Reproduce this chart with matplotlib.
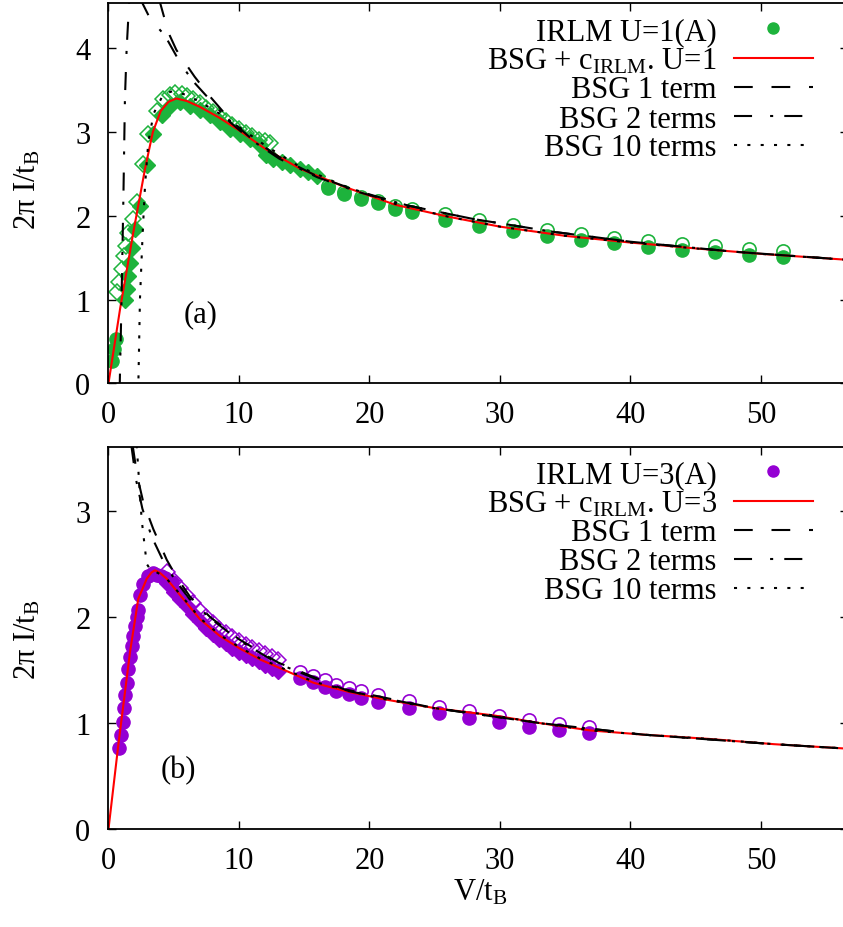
import matplotlib.pyplot as plt
from matplotlib.lines import Line2D

# --------------------------------
# DATA
# --------------------------------
# (a) U=1
a_circ_small_v = [0.25, 0.42, 0.57]
a_circ_small_i = [0.27, 0.41, 0.53]

a_dia_open_v = [0.63, 0.83, 1.01, 1.19, 1.34, 1.52, 1.9, 2.2, 2.67, 3.05, 3.69, 4.2, 4.7, 5.1,
                5.6, 6.0, 6.5, 7.0, 7.5, 8.0, 8.5, 9.0, 9.5, 10.0, 10.5, 11.0, 11.5, 12.0, 12.4]
a_dia_open_i = [1.09, 1.21, 1.36, 1.52, 1.64, 1.80, 1.96, 2.16, 2.62, 2.98, 3.25, 3.39, 3.44, 3.47,
                3.45, 3.43, 3.39, 3.35, 3.29, 3.24, 3.19, 3.13, 3.08, 3.04, 2.99, 2.95, 2.91, 2.89, 2.87]
a_dia_fill_v = [1.26, 1.39, 1.52, 1.65, 1.83, 2.03, 2.41, 2.93, 3.43, 4.08, 4.71, 5.48, 6.25, 7.0,
                7.78, 8.54, 9.3, 10.1, 10.84, 11.6, 12.1, 12.6, 13.3, 13.9, 14.7, 15.3, 15.95]
a_dia_fill_i = [0.99, 1.13, 1.28, 1.44, 1.62, 1.84, 2.12, 2.60, 2.98, 3.20, 3.31, 3.36, 3.31, 3.26,
                3.20, 3.12, 3.04, 2.98, 2.92, 2.84, 2.72, 2.68, 2.64, 2.60, 2.56, 2.52, 2.48]
a_circ_v = [16.84, 18.07, 19.38, 20.67, 21.95, 23.27, 25.8, 28.4, 31.0, 33.6, 36.2, 38.76,
            41.36, 43.95, 46.5, 49.1, 51.7]
a_circ_fill_i = [2.33, 2.26, 2.198, 2.148, 2.086, 2.046, 1.955, 1.88, 1.82, 1.76, 1.71,
                 1.67, 1.63, 1.59, 1.57, 1.53, 1.51]
a_circ_open_i = [2.355, 2.285, 2.228, 2.178, 2.121, 2.081, 2.015, 1.95, 1.89, 1.83, 1.78,
                 1.74, 1.70, 1.66, 1.64, 1.60, 1.58]

a_fit_v = [0, 0.9, 1.9, 2.8, 3.4, 4.0, 4.6, 5.2, 6.0, 7.0, 8.5, 10, 12, 14.7, 18, 22, 26, 30,
           35, 40, 45, 50, 57]
a_fit_i = [0, 0.9, 1.8, 2.56, 3.0, 3.25, 3.36, 3.40, 3.37, 3.30, 3.17, 3.02, 2.80, 2.56, 2.35,
           2.13, 1.99, 1.87, 1.76, 1.68, 1.61, 1.545, 1.47]
a_bsg1_v = [3.85, 4.3, 4.7, 5.2, 5.85, 6.6, 7.8, 9.3, 10.8, 13.1, 16, 19, 23, 28, 34, 40, 48, 57]
a_bsg1_i = [4.6, 4.35, 4.15, 3.98, 3.83, 3.66, 3.42, 3.15, 2.94, 2.70, 2.47, 2.30, 2.12, 1.96,
            1.81, 1.69, 1.57, 1.47]
a_bsg2_v = [0.85, 1.0, 1.14, 1.26, 1.39, 1.6, 1.95, 2.4, 3.2, 4.33, 5.48, 6.4, 7.8, 9.3, 10.8,
            13.1, 16, 19, 23, 28, 34, 40, 48, 57]
a_bsg2_i = [-0.1, 1.0, 2.2, 3.4, 3.99, 4.6, 5.0, 4.6, 4.35, 4.15, 3.83, 3.62, 3.38, 3.12, 2.92,
            2.68, 2.46, 2.29, 2.12, 1.96, 1.81, 1.69, 1.57, 1.47]
a_bsg10_v = [2.2, 2.29, 2.41, 2.62, 2.8, 3.05, 3.46, 4.2, 4.97, 6.0, 7.0, 8.5, 10, 12, 14.7, 18,
             22, 26, 30, 35, 40, 45, 50, 57]
a_bsg10_i = [-0.1, 0, 1.0, 1.8, 2.36, 2.88, 3.22, 3.45, 3.49, 3.44, 3.36, 3.22, 3.06, 2.84, 2.58,
             2.36, 2.14, 1.99, 1.87, 1.76, 1.68, 1.61, 1.545, 1.47]

# (b) U=3
b_circ_small_v = [0.83, 0.96, 1.09, 1.19, 1.29, 1.39, 1.52, 1.65, 1.78, 1.90, 2.03, 2.16, 2.28,
                  2.41, 2.67, 3.05, 3.4, 3.69, 4.0, 4.33, 4.84, 5.35]
b_circ_small_i = [0.76, 0.89, 1.01, 1.14, 1.26, 1.38, 1.51, 1.62, 1.73, 1.82, 1.91, 2.0, 2.07,
                  2.21, 2.31, 2.39, 2.41, 2.40, 2.39, 2.37, 2.33, 2.23]
b_dia_v = [4.5, 5.0, 5.5, 6.0, 6.5, 7.0, 7.5, 8.0, 8.5, 9.0, 9.5, 10.0, 10.5, 11.0, 11.5, 12.0,
           12.5, 13.0]
b_dia_fill_i = [2.32, 2.24, 2.17, 2.10, 2.03, 1.96, 1.90, 1.84, 1.79, 1.75, 1.71, 1.67, 1.64,
                1.61, 1.58, 1.55, 1.52, 1.49]
b_dia_open_i = [2.42, 2.34, 2.27, 2.20, 2.13, 2.06, 2.00, 1.94, 1.89, 1.85, 1.81, 1.77, 1.74,
                1.71, 1.68, 1.65, 1.62, 1.59]
b_circ_v = [14.64, 15.66, 16.56, 17.46, 18.42, 19.38, 20.67, 23.0, 25.3, 27.65, 29.95, 32.2,
            34.5, 36.8]
b_circ_fill_i = [1.422, 1.382, 1.342, 1.301, 1.269, 1.238, 1.20, 1.144, 1.09, 1.049, 1.005,
                 0.965, 0.933, 0.901]
b_circ_open_i = [1.482, 1.442, 1.402, 1.361, 1.329, 1.298, 1.26, 1.204, 1.15, 1.109, 1.065,
                 1.025, 0.993, 0.961]

b_fit_v = [0, 0.75, 1.65, 2.28, 2.93, 3.3, 3.56, 3.9, 4.46, 5.73, 7.0, 8.54, 10.1, 11.6, 13.65,
           15.7, 18.5, 21.3, 25, 29.6, 33, 36.9, 41, 46, 51, 57]
b_fit_i = [0, 0.79, 1.67, 2.17, 2.36, 2.42, 2.44, 2.42, 2.36, 2.17, 1.98, 1.82, 1.70, 1.60, 1.49,
           1.38, 1.29, 1.22, 1.14, 1.07, 1.0, 0.93, 0.89, 0.85, 0.80, 0.755]
b_bsg1_v = [1.85, 2.2, 2.67, 3.43, 4.46, 5.2, 6.25, 7.78, 10, 13, 18, 25, 33, 41, 51, 57]
b_bsg1_i = [3.62, 3.33, 3.08, 2.83, 2.54, 2.38, 2.19, 2.0, 1.79, 1.57, 1.32, 1.14, 1.0, 0.89,
            0.80, 0.755]
b_bsg2_v = [1.75, 2.1, 2.6, 3.3, 4.3, 5.1, 6.2, 7.78, 10, 13, 18, 25, 33, 41, 51, 57]
b_bsg2_i = [3.62, 3.3, 3.02, 2.76, 2.5, 2.35, 2.17, 1.99, 1.78, 1.56, 1.31, 1.14, 1.0, 0.89,
            0.80, 0.755]
b_bsg10_v = [2.16, 2.54, 2.93, 3.3, 3.56, 4.0, 4.46, 5.73, 7.0, 8.54, 10.1, 11.6, 13.65, 15.7,
             18.5, 21.3, 25, 29.6, 33, 36.9, 41, 46, 51, 57]
b_bsg10_i = [3.62, 2.92, 2.5, 2.43, 2.43, 2.4, 2.36, 2.18, 1.99, 1.83, 1.71, 1.61, 1.50, 1.39,
             1.30, 1.22, 1.14, 1.07, 1.0, 0.93, 0.89, 0.85, 0.80, 0.755]

# --------------------------------
# STYLE
# --------------------------------
plt.rcParams['font.family'] = ['Liberation Serif', 'DejaVu Serif']
plt.rcParams['mathtext.fontset'] = 'custom'
plt.rcParams['mathtext.rm'] = 'Liberation Serif'
plt.rcParams['mathtext.it'] = 'Liberation Serif:italic'
plt.rcParams['lines.scale_dashes'] = False

FS = 22
green = '#1db33c'
purple = '#9400d3'
dash1 = (0, (13.5, 13.5))
dash2 = (0, (13, 13, 2.2, 8))
dash10 = (0, (2.2, 7.4))
lw = 1.5
ms = 9.5

fig = plt.figure(figsize=(8.43, 9.28), dpi=100)
ax_a = fig.add_axes([0.1287, 0.5859, 0.8772, 0.4098])
ax_b = fig.add_axes([0.1287, 0.1056, 0.8772, 0.4113])


def panel(ax, col, sv, si, dv, dfi, dov, doi, cv, cfi, coi, fit, b1, b2, b10, ulabel, ymax, yticks):
    ax.plot(sv, si, 'o', color=col, ms=ms, mec=col)
    ax.plot(dv, dfi, 'D', color=col, ms=ms * 0.85, mec=col)
    ax.plot(dov, doi, 'D', mfc='none', mec=col, ms=ms * 0.85, mew=1.1)
    ax.plot(cv, cfi, 'o', color=col, ms=ms, mec=col)
    ax.plot(cv, coi, 'o', mfc='none', mec=col, ms=ms, mew=1.2)
    ax.plot(fit[0], fit[1], '-', color='red', lw=lw)
    ax.plot(b1[0], b1[1], color='black', lw=lw, linestyle=dash1)
    ax.plot(b2[0], b2[1], color='black', lw=lw, linestyle=dash2)
    ax.plot(b10[0], b10[1], color='black', lw=lw, linestyle=dash10)

    ax.set_xlim(0, 56.67)
    ax.set_ylim(0, ymax)
    ax.set_xticks([0, 10, 20, 30, 40, 50])
    ax.set_yticks(yticks)
    ax.tick_params(direction='in', length=5.8, width=1.0, top=True, right=True,
                   labelsize=FS, pad=12)
    ax.tick_params(axis='y', pad=13)
    for s in ax.spines.values():
        s.set_linewidth(1.3)

    handles = [
        Line2D([], [], marker='o', color=col, ls='none', ms=8),
        Line2D([], [], color='red', lw=lw),
        Line2D([], [], color='black', lw=lw, linestyle=dash1),
        Line2D([], [], color='black', lw=lw, linestyle=dash2),
        Line2D([], [], color='black', lw=lw, linestyle=dash10),
    ]
    labels = [f'IRLM U={ulabel}(A)', 'BSG + c$_{\\mathrm{IRLM}}$. U=' + ulabel,
              'BSG 1 term', 'BSG 2 terms', 'BSG 10 terms']
    return handles, labels


def legend(ax, h, l, top_px):
    ax.legend(h, l, loc='upper right', bbox_to_anchor=(813 / 843, 1 - top_px / 928),
              bbox_transform=fig.transFigure, markerfirst=False, frameon=False,
              fontsize=FS, handlelength=2.6, handletextpad=0.55, labelspacing=0.0,
              borderpad=0, borderaxespad=0)


h, l = panel(ax_a, green, a_circ_small_v, a_circ_small_i, a_dia_fill_v, a_dia_fill_i,
             a_dia_open_v, a_dia_open_i, a_circ_v, a_circ_fill_i, a_circ_open_i,
             (a_fit_v, a_fit_i), (a_bsg1_v, a_bsg1_i), (a_bsg2_v, a_bsg2_i),
             (a_bsg10_v, a_bsg10_i), '1', 4.54, [0, 1, 2, 3, 4])
legend(ax_a, h, l, 18)
ax_a.text(0.124, 0.182, '(a)', transform=ax_a.transAxes, fontsize=FS, ha='center', va='center')

h, l = panel(ax_b, purple, b_circ_small_v, b_circ_small_i, b_dia_v, b_dia_fill_i,
             b_dia_v, b_dia_open_i, b_circ_v, b_circ_fill_i, b_circ_open_i,
             (b_fit_v, b_fit_i), (b_bsg1_v, b_bsg1_i), (b_bsg2_v, b_bsg2_i),
             (b_bsg10_v, b_bsg10_i), '3', 3.6, [0, 1, 2, 3])
legend(ax_b, h, l, 461)
ax_b.text(0.094, 0.157, '(b)', transform=ax_b.transAxes, fontsize=FS, ha='center', va='center')

ylab = '2\u03c0 I/t$_{\\mathrm{B}}$'
fig.text(28 / 843, 1 - 190 / 928, ylab, rotation=90, fontsize=FS, ha='center', va='center')
fig.text(28 / 843, 1 - 640 / 928, ylab, rotation=90, fontsize=FS, ha='center', va='center')
fig.text(480 / 843, 1 - 893 / 928, 'V/t$_{\\mathrm{B}}$', fontsize=FS, ha='center', va='center')

fig.savefig('out.png', dpi=100)
